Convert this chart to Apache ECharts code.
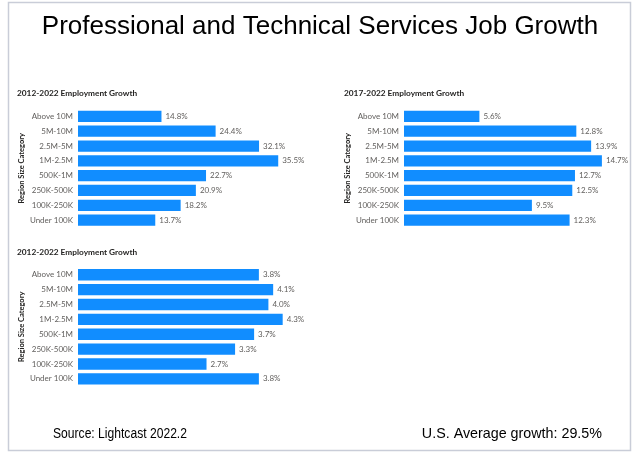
<!DOCTYPE html>
<html>
<head>
<meta charset="utf-8">
<script src="https://cdn.jsdelivr.net/npm/echarts@6/dist/echarts.min.js"></script>
<style>
  html, body { margin: 0; padding: 0; background: #fff; }
  #main { width: 634px; height: 452px; }
</style>
</head>
<body>
<div id="main"></div>
<script>
// region size categories, top to bottom
const categories = ['Above 10M', '5M-10M', '2.5M-5M', '1M-2.5M', '500K-1M', '250K-500K', '100K-250K', 'Under 100K']

// growth in percent
const growth2012 = [14.8, 24.4, 32.1, 35.5, 22.7, 20.9, 18.2, 13.7]
const growth2017 = [5.6, 12.8, 13.9, 14.7, 12.7, 12.5, 9.5, 12.3]
const growthThird = [3.8, 4.1, 4.0, 4.3, 3.7, 3.3, 2.7, 3.8]

const panelTitles = ['2012-2022 Employment Growth', '2017-2022 Employment Growth', '2012-2022 Employment Growth']
const axisMax = [40, 16, 5]

const chart = echarts.init(document.getElementById('main'))

const font = 'Lato'
const blue = '#118DFF'

// grids for the three panels
const grids = [
  { left: 78, top: 109, width: 225.6, height: 118.5 },
  { left: 404, top: 109, width: 215.4, height: 118.5 },
  { left: 78, top: 267.3, width: 238, height: 119 }
]

const makeY = (i) => ({
  type: 'category',
  gridIndex: i,
  data: categories,
  inverse: true,
  axisLine: { show: false },
  axisTick: { show: false },
  axisLabel: { color: '#605E5C', fontSize: 8, fontFamily: font, margin: 5 },
  name: 'Region Size Category',
  nameLocation: 'middle',
  nameRotate: 90,
  nameGap: 50,
  nameTextStyle: { color: '#252423', fontSize: 7.5, fontWeight: 'bold', fontFamily: font }
})

const makeX = (i) => ({
  type: 'value',
  gridIndex: i,
  min: 0,
  max: axisMax[i],
  show: false
})

const makeSeries = (i, data) => ({
  type: 'bar',
  xAxisIndex: i,
  yAxisIndex: i,
  data: data,
  barCategoryGap: '24%',
  itemStyle: { color: blue },
  label: {
    show: true,
    position: 'right',
    distance: 4,
    color: '#605E5C',
    fontSize: 8,
    fontFamily: font,
    formatter: (p) => p.value.toFixed(1) + '%'
  }
})

const panelTitleStyle = { fontFamily: font, fontSize: 8.3, fontWeight: 'bold', color: '#252423' }

const option = {
  animation: false,
  title: [
    { text: panelTitles[0], left: 12, top: 84, textStyle: panelTitleStyle },
    { text: panelTitles[1], left: 339, top: 84, textStyle: panelTitleStyle },
    { text: panelTitles[2], left: 12, top: 243, textStyle: panelTitleStyle }
  ],
  graphic: [
    {
      type: 'rect',
      shape: { x: 8.5, y: 2.5, width: 622, height: 448 },
      style: { fill: 'none', stroke: '#C9CDD8', lineWidth: 1.5 },
      silent: true
    },
    {
      type: 'text',
      x: 320,
      y: 27,
      style: {
        text: 'Professional and Technical Services Job Growth',
        font: '26px "Liberation Sans"',
        fill: '#000',
        textAlign: 'center',
        textVerticalAlign: 'middle'
      }
    },
    {
      type: 'text',
      x: 53,
      y: 434,
      scaleX: 0.865,
      style: {
        text: 'Source: Lightcast 2022.2',
        font: '14px "Liberation Sans"',
        fill: '#000',
        textAlign: 'left',
        textVerticalAlign: 'middle'
      }
    },
    {
      type: 'text',
      x: 602,
      y: 434,
      style: {
        text: 'U.S. Average growth: 29.5%',
        font: '14.3px "Liberation Sans"',
        fill: '#000',
        textAlign: 'right',
        textVerticalAlign: 'middle'
      }
    }
  ],
  grid: grids,
  xAxis: [makeX(0), makeX(1), makeX(2)],
  yAxis: [makeY(0), makeY(1), makeY(2)],
  series: [
    makeSeries(0, growth2012),
    makeSeries(1, growth2017),
    makeSeries(2, growthThird)
  ]
}

chart.setOption(option)
</script>
</body>
</html>
